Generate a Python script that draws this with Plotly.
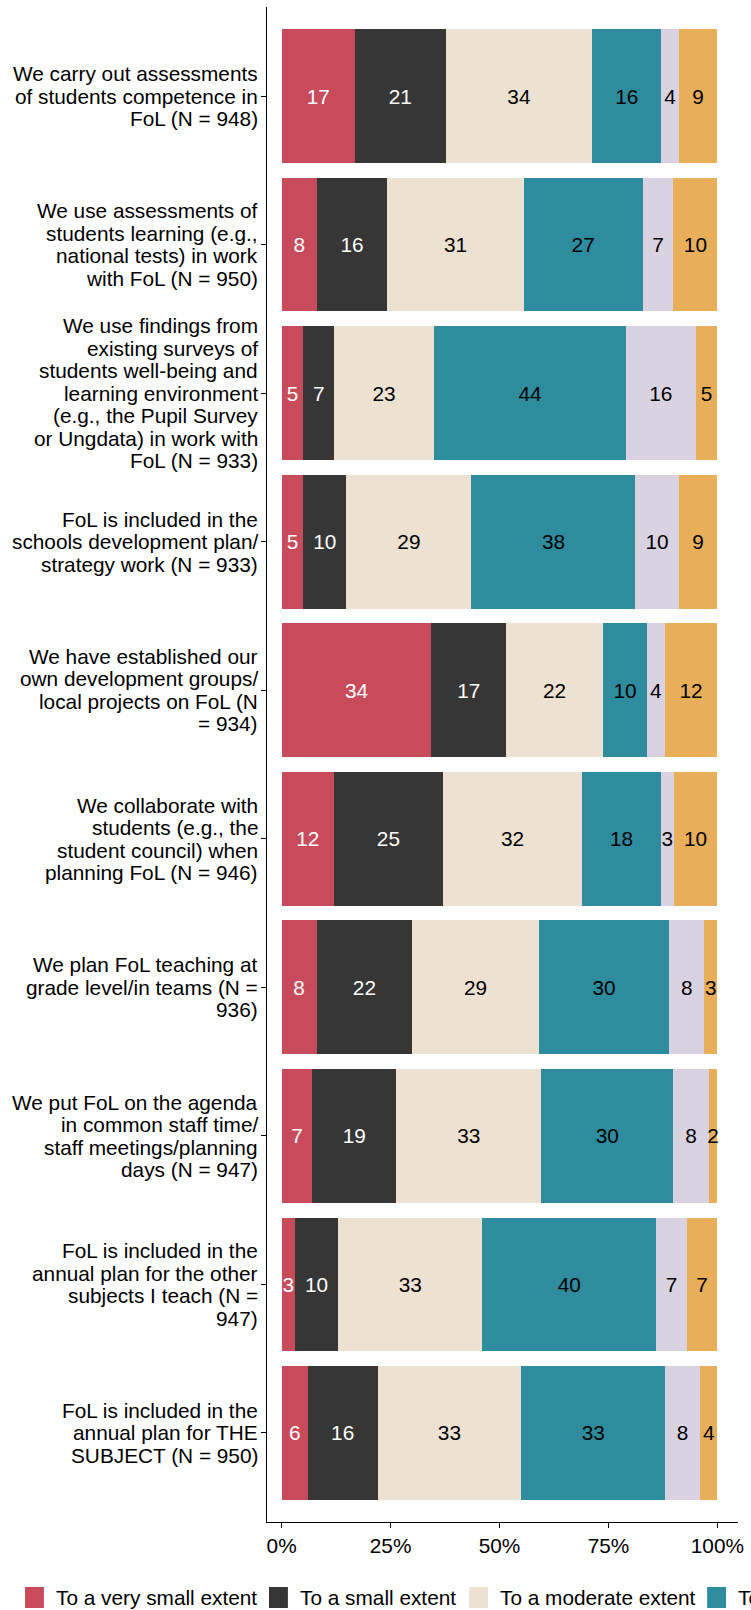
import plotly.graph_objects as go

# ---------------- data ----------------
questions = [
    "We carry out assessments<br>of students competence in<br>FoL (N = 948)",
    "We use assessments of<br>students learning (e.g.,<br>national tests) in work<br>with FoL (N = 950)",
    "We use findings from<br>existing surveys of<br>students well-being and<br>learning environment<br>(e.g., the Pupil Survey<br>or Ungdata) in work with<br>FoL (N = 933)",
    "FoL is included in the<br>schools development plan/<br>strategy work (N = 933)",
    "We have established our<br>own development groups/<br>local projects on FoL (N<br>= 934)",
    "We collaborate with<br>students (e.g., the<br>student council) when<br>planning FoL (N = 946)",
    "We plan FoL teaching at<br>grade level/in teams (N =<br>936)",
    "We put FoL on the agenda<br>in common staff time/<br>staff meetings/planning<br>days (N = 947)",
    "FoL is included in the<br>annual plan for the other<br>subjects I teach (N =<br>947)",
    "FoL is included in the<br>annual plan for THE<br>SUBJECT (N = 950)",
]

categories = [
    "To a very small extent",
    "To a small extent",
    "To a moderate extent",
    "To a large extent",
    "To a very large extent",
    "Don't know",
]

very_small = [17, 8, 5, 5, 34, 12, 8, 7, 3, 6]
small = [21, 16, 7, 10, 17, 25, 22, 19, 10, 16]
moderate = [34, 31, 23, 29, 22, 32, 29, 33, 33, 33]
large = [16, 27, 44, 38, 10, 18, 30, 30, 40, 33]
very_large = [4, 7, 16, 10, 4, 3, 8, 8, 7, 8]
dont_know = [9, 10, 5, 9, 12, 10, 3, 2, 7, 4]

x_ticks = [0, 25, 50, 75, 100]
x_tick_labels = ["0%", "25%", "50%", "75%", "100%"]

# ---------------- style ----------------
colors = ["#C84B5C", "#363636", "#EDE1D2", "#2E8C9E", "#D9D2E0", "#E8AE5A"]
text_colors = ["white", "white", "black", "black", "black", "black"]
FONT = "Liberation Sans, Arial, sans-serif"
FS = 20.8

W, H = 751, 1610
ML, MR, MT, MB = 267, 11, 7, 88
PW, PH = W - ML - MR, H - MT - MB

series = [very_small, small, moderate, large, very_large, dont_know]
totals = [sum(s[i] for s in series) for i in range(len(questions))]
ypos = list(range(len(questions)))

fig = go.Figure()
for name, vals, col, tcol in zip(categories, series, colors, text_colors):
    fig.add_trace(go.Bar(
        y=ypos,
        x=[v / t * 100 for v, t in zip(vals, totals)],
        orientation="h",
        name=name,
        marker=dict(color=col, line=dict(width=0)),
        width=0.9,
        text=[str(v) for v in vals],
        textposition="inside",
        insidetextanchor="middle",
        textangle=0,
        constraintext="none",
        insidetextfont=dict(color=tcol, size=FS, family=FONT),
        showlegend=False,
        cliponaxis=False,
        hoverinfo="skip",
    ))

annotations = []
# y-axis labels, one annotation per line to reproduce tight line spacing
LINE_H = 22.5
for i, q in enumerate(questions):
    lines = q.split("<br>")
    n = len(lines)
    for k, ln in enumerate(lines):
        annotations.append(dict(
            x=0, xref="paper", y=i, yref="y",
            text=ln, showarrow=False,
            xanchor="right", yanchor="middle",
            xshift=-7, yshift=((n - 1) / 2 - k) * LINE_H,
            font=dict(family=FONT, size=FS, color="black"),
        ))

# manual legend (overflows right edge as in the reference)
legend_key_px = [24, 269, 470, 709, 960, 1200]
KEY_W, KEY_TOP, KEY_BOT = 19, 1587, 1608
TEXT_CY = 1598
shapes = []
for name, col, kx in zip(categories, colors, legend_key_px):
    shapes.append(dict(
        type="rect", xref="paper", yref="paper",
        x0=(kx - ML) / PW, x1=(kx + KEY_W - ML) / PW,
        y0=(H - MB - KEY_BOT) / PH, y1=(H - MB - KEY_TOP) / PH,
        fillcolor=col, line=dict(width=0),
    ))
    annotations.append(dict(
        x=(kx + KEY_W + 10 - ML) / PW, xref="paper",
        y=(H - MB - TEXT_CY) / PH, yref="paper",
        text=name, showarrow=False, xanchor="left", yanchor="middle",
        font=dict(family=FONT, size=FS, color="black"),
    ))

fig.update_layout(
    width=W, height=H,
    margin=dict(l=ML, r=MR, t=MT, b=MB, pad=0),
    barmode="stack",
    bargap=0.1,
    plot_bgcolor="white", paper_bgcolor="white",
    font=dict(family=FONT, size=FS, color="black"),
    showlegend=False,
    annotations=annotations,
    shapes=shapes,
    xaxis=dict(
        range=[-3.36, 104.73],
        tickvals=x_ticks, ticktext=x_tick_labels,
        showgrid=False, zeroline=False,
        showline=True, linecolor="black", linewidth=1.2,
        ticks="outside", ticklen=5, tickwidth=1.2, tickcolor="black",
        tickfont=dict(family=FONT, size=FS, color="black"),
        fixedrange=True,
    ),
    yaxis=dict(
        range=[len(questions) - 0.4, -0.6],
        tickvals=ypos,
        showticklabels=False,
        showgrid=False, zeroline=False,
        showline=True, linecolor="black", linewidth=1.2,
        ticks="outside", ticklen=5, tickwidth=1.2, tickcolor="black",
        fixedrange=True,
    ),
)

fig.write_html(
    "out.html",
    config={"displayModeBar": False},
    post_script="document.body.style.margin='0';document.body.style.overflow='hidden';",
)
